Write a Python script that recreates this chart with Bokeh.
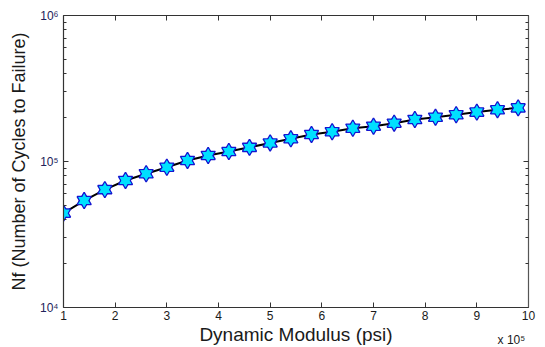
from bokeh.plotting import figure
from bokeh.models import Range1d, FixedTicker, LinearAxis, LogAxis, CustomJSTickFormatter
from bokeh.embed import file_html
from bokeh.resources import INLINE

# Dynamic modulus (x 10^5 psi)
modulus = [1.0, 1.4, 1.8, 2.2, 2.6, 3.0, 3.4, 3.8, 4.2, 4.6, 5.0, 5.4,
           5.8, 6.2, 6.6, 7.0, 7.4, 7.8, 8.2, 8.6, 9.0, 9.4, 9.8]
# Nf (number of cycles to failure)
nf = [44300, 54000, 64200, 74100, 82400, 91400, 101600, 110000, 117000,
      125000, 134000, 143000, 153000, 160000, 169000, 174500, 183000,
      194000, 201000, 209000, 218000, 226000, 233000]

x_ticks = [1, 2, 3, 4, 5, 6, 7, 8, 9, 10]
y_ticks = [1e4, 1e5, 1e6]
y_tick_labels = ["10\u2074", "10\u2075", "10\u2076"]
y_minor = [m * 10 ** k for k in (4, 5) for m in range(2, 10)]
x_label = "Dynamic Modulus (psi)"
y_label = "Nf (Number of Cycles to Failure)"
x_multiplier = "x 10\u2075"
x_multiplier_pos = 9.67

FONT = "Liberation Sans"
AXIS_COLOR = "#333333"
EMPTY = CustomJSTickFormatter(code="return ''")

p = figure(width=545, height=347, x_range=Range1d(1, 10), y_range=Range1d(1e4, 1e6),
           y_axis_type="log", output_backend="svg", toolbar_location=None,
           min_border_left=63, min_border_right=17, min_border_top=15, min_border_bottom=40)
p.outline_line_color = None
p.xgrid.grid_line_color = None
p.ygrid.grid_line_color = None

def style_axis(ax):
    ax.axis_line_color = AXIS_COLOR
    ax.axis_line_width = 1.2
    ax.major_tick_line_color = AXIS_COLOR
    ax.minor_tick_line_color = AXIS_COLOR
    ax.major_tick_in = 5
    ax.major_tick_out = 0
    ax.minor_tick_in = 3
    ax.minor_tick_out = 0

# bottom x axis (tick labels)
xa = p.xaxis[0]
xa.ticker = FixedTicker(ticks=x_ticks)
style_axis(xa)
xa.major_label_text_font = FONT
xa.major_label_text_font_size = "12px"
xa.major_label_text_color = "#1a1a1a"
xa.major_label_standoff = 3

# second bottom axis: multiplier + axis title
xb = LinearAxis(ticker=FixedTicker(ticks=[x_multiplier_pos]))
xb.major_label_overrides = {x_multiplier_pos: x_multiplier}
xb.axis_line_color = None
xb.major_tick_line_color = None
xb.minor_tick_line_color = None
xb.major_tick_in = 0
xb.major_tick_out = 0
xb.minor_tick_in = 0
xb.minor_tick_out = 0
xb.major_label_standoff = 10
xb.major_label_text_font = FONT
xb.major_label_text_font_size = "12px"
xb.major_label_text_color = "#1a1a1a"
xb.axis_label = x_label
xb.axis_label_text_font = FONT
xb.axis_label_text_font_style = "normal"
xb.axis_label_text_font_size = "19px"
xb.axis_label_text_color = "#1a1a1a"
xb.axis_label_standoff = -26
p.add_layout(xb, "below")

# left y axis
ya = p.yaxis[0]
ya.ticker = FixedTicker(ticks=y_ticks, minor_ticks=y_minor)
style_axis(ya)
ya.major_label_overrides = {t: s for t, s in zip(y_ticks, y_tick_labels)}
ya.major_label_text_font = FONT
ya.major_label_text_font_size = "12px"
ya.major_label_text_color = "#22225a"
ya.major_label_standoff = 5
ya.axis_label = y_label
ya.axis_label_text_font = FONT
ya.axis_label_text_font_style = "normal"
ya.axis_label_text_font_size = "18px"
ya.axis_label_text_color = "#1a1a1a"
ya.axis_label_standoff = 8

# top and right axes (box)
top = LinearAxis(ticker=FixedTicker(ticks=x_ticks), formatter=EMPTY)
style_axis(top)
top.major_label_standoff = 0
p.add_layout(top, "above")
right = LogAxis(ticker=FixedTicker(ticks=y_ticks, minor_ticks=y_minor), formatter=EMPTY)
style_axis(right)
right.major_label_standoff = 0
right.axis_line_color = "#555555"
p.add_layout(right, "right")

# curve
p.line(modulus, nf, line_color="black", line_width=2)
# hexagram markers: two overlaid triangles
p.scatter(modulus, nf, marker="triangle", size=14, fill_color="#00e0ff", line_color="#1515d0", line_width=1.5)
p.scatter(modulus, nf, marker="inverted_triangle", size=14, fill_color="#00e0ff", line_color="#1515d0", line_width=1.5)
p.scatter(modulus, nf, marker="triangle", size=12, fill_color="#00e0ff", line_color=None)
p.scatter(modulus, nf, marker="inverted_triangle", size=12, fill_color="#00e0ff", line_color=None)

open("out.html", "w").write(file_html(p, INLINE))
